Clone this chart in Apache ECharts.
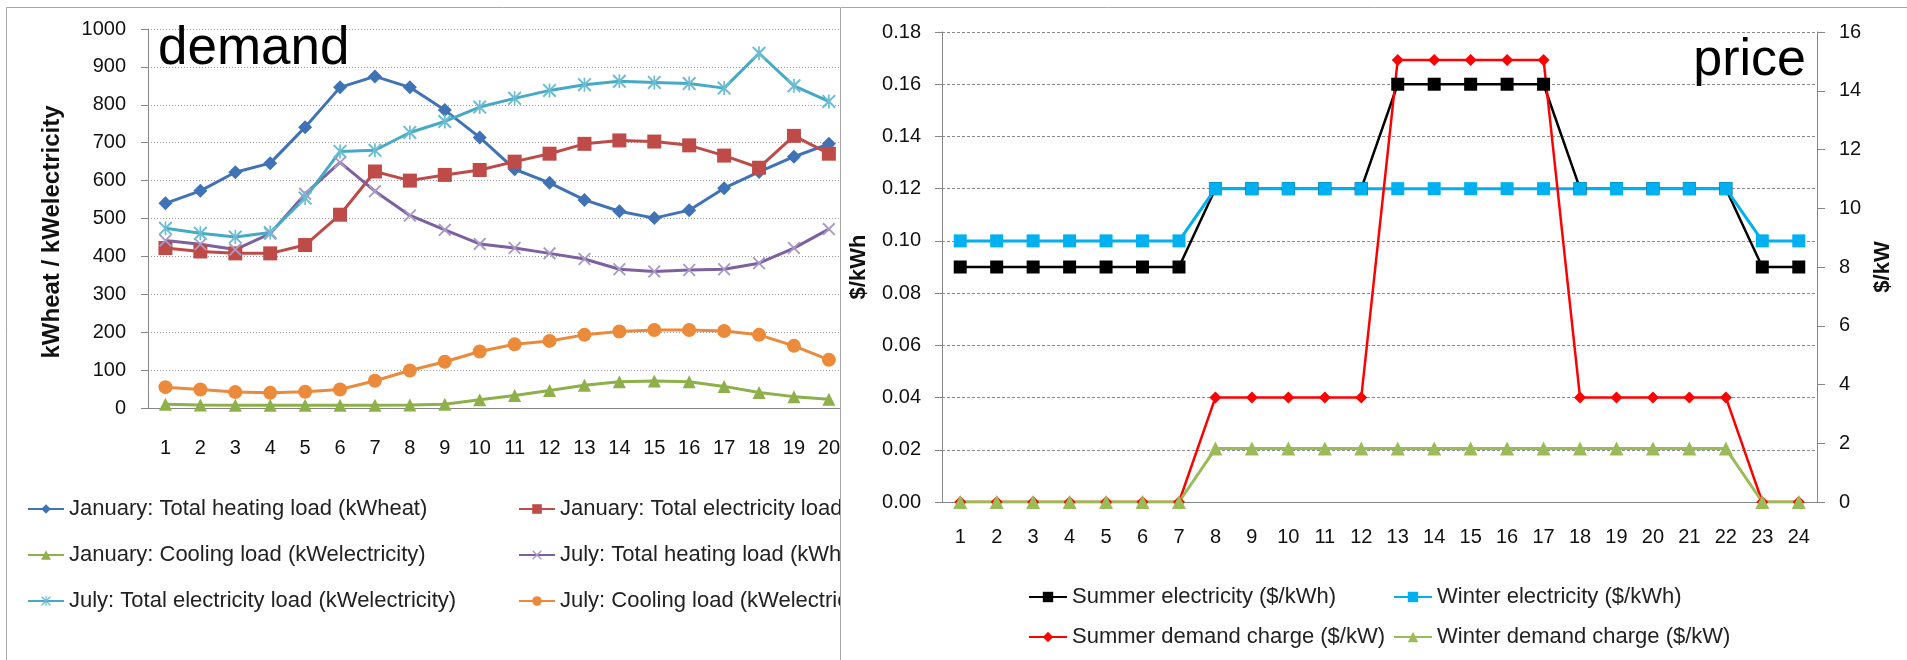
<!DOCTYPE html>
<html>
<head>
<meta charset="utf-8">
<script src="https://cdn.jsdelivr.net/npm/echarts@6/dist/echarts.min.js"></script>
<style>
  html, body { margin: 0; padding: 0; background: #fff; }
  #leftWrap { position: absolute; left: 0; top: 0; width: 840px; height: 660px; overflow: hidden; }
  #demand { width: 1000px; height: 660px; }
  #price { position: absolute; left: 840px; top: 0; width: 1067px; height: 660px; }
</style>
</head>
<body>
<div id="leftWrap"><div id="demand"></div></div>
<div id="price"></div>
<script>
// demand chart (hours shown 1..20, the rest is cut off)
var demandHours = ['1','2','3','4','5','6','7','8','9','10','11','12','13','14','15','16','17','18','19','20','21','22','23','24']
var janHeating = [540,573,622,646,741,846,875,846,786,714,630,594,549,519,501,522,580,623,663,697]
var janElectricity = [422,413,408,408,430,510,624,600,615,628,650,671,697,706,703,693,666,634,718,671]
var janCooling = [10,8,7,7,7,7,7,8,10,22,33,46,60,69,71,69,57,41,30,23]
var julyHeating = [442,432,418,460,565,648,572,508,470,433,422,408,393,366,360,364,366,382,422,472]
var julyElectricity = [474,461,451,463,554,677,680,727,756,794,817,838,853,862,859,856,844,936,850,809]
var julyCooling = [55,49,42,40,43,49,72,99,122,149,168,177,193,202,206,206,203,193,164,127]

// price chart
var priceHours = ['1','2','3','4','5','6','7','8','9','10','11','12','13','14','15','16','17','18','19','20','21','22','23','24']
var summerElectricity = [0.09,0.09,0.09,0.09,0.09,0.09,0.09,0.12,0.12,0.12,0.12,0.12,0.16,0.16,0.16,0.16,0.16,0.12,0.12,0.12,0.12,0.12,0.09,0.09]
var winterElectricity = [0.10,0.10,0.10,0.10,0.10,0.10,0.10,0.12,0.12,0.12,0.12,0.12,0.12,0.12,0.12,0.12,0.12,0.12,0.12,0.12,0.12,0.12,0.10,0.10]
var summerDemand = [0,0,0,0,0,0,0,3.56,3.56,3.56,3.56,3.56,15.05,15.05,15.05,15.05,15.05,3.56,3.56,3.56,3.56,3.56,0,0]
var winterDemand = [0,0,0,0,0,0,0,1.82,1.82,1.82,1.82,1.82,1.82,1.82,1.82,1.82,1.82,1.82,1.82,1.82,1.82,1.82,0,0]

var FONT = 'Liberation Sans, Arial, sans-serif'
var X_MARK = 'path://M0,1L1,0L10,9L9,10Z M9,0L10,1L1,10L0,9Z'
var STAR_MARK = 'path://M0,1L1,0L10,9L9,10Z M9,0L10,1L1,10L0,9Z M4.4,0L5.6,0L5.6,10L4.4,10Z'

var lineSeries = function (name, data, color, symbol, size, extra) {
  var s = {
    name: name,
    type: 'line',
    data: data,
    symbol: symbol,
    symbolSize: size,
    showAllSymbol: true,
    lineStyle: { color: color, width: 3 },
    itemStyle: { color: color, opacity: 1 }
  }
  return Object.assign(s, extra || {})
}

var demandChart = echarts.init(document.getElementById('demand'))
demandChart.setOption({
  animation: false,
  textStyle: { fontFamily: FONT },
  grid: { left: 148, top: 29, width: 838, height: 379 },
  legend: [
    {
      orient: 'vertical', left: 22, top: 493, itemGap: 24, itemWidth: 36, itemHeight: 12,
      textStyle: { fontSize: 22, color: '#222', fontFamily: FONT },
      data: ['January: Total heating load (kWheat)', 'January: Cooling load (kWelectricity)', 'July: Total electricity load (kWelectricity)']
    },
    {
      orient: 'vertical', left: 513, top: 493, itemGap: 24, itemWidth: 36, itemHeight: 12,
      textStyle: { fontSize: 22, color: '#222', fontFamily: FONT },
      data: ['January: Total electricity load (kWelectricity)', 'July: Total heating load (kWheat)', 'July: Cooling load (kWelectricity)']
    }
  ],
  graphic: [
    { type: 'rect', shape: { x: 6.5, y: 7.5, width: 1200, height: 700 }, style: { fill: 'none', stroke: '#a6a6a6', lineWidth: 1 }, silent: true },
    { type: 'text', left: 158, top: 23, style: { text: 'demand', font: '53px ' + FONT, fill: '#000' }, z: 100 },
    {
      type: 'text', x: 52, y: 232, rotation: Math.PI / 2,
      style: { text: 'kWheat / kWelectricity', font: 'bold 24px ' + FONT, fill: '#111', align: 'center', verticalAlign: 'middle' }
    }
  ],
  xAxis: {
    type: 'category',
    data: demandHours,
    axisLine: { lineStyle: { color: '#868686' } },
    axisTick: { length: 8, lineStyle: { color: '#868686' } },
    axisLabel: { interval: 0, margin: 30, fontSize: 20, color: '#111' }
  },
  yAxis: {
    type: 'value',
    min: 0, max: 1000, interval: 100,
    axisLine: { show: true, lineStyle: { color: '#868686' } },
    axisTick: { show: true, length: 7, lineStyle: { color: '#868686' } },
    axisLabel: { margin: 22, fontSize: 20, color: '#111', formatter: function (v) { return String(v) } },
    splitLine: { lineStyle: { color: '#9a9a9a', type: [1, 2] } }
  },
  series: [
    lineSeries('January: Total heating load (kWheat)', janHeating, '#3f73b6', 'diamond', 14),
    lineSeries('January: Total electricity load (kWelectricity)', janElectricity, '#be4b48', 'rect', 14),
    lineSeries('January: Cooling load (kWelectricity)', janCooling, '#8db04a', 'triangle', 13),
    lineSeries('July: Total heating load (kWheat)', julyHeating, '#7d60a0', X_MARK, 13, { itemStyle: { color: '#a999c6' } }),
    lineSeries('July: Total electricity load (kWelectricity)', julyElectricity, '#46aac5', STAR_MARK, 14, { itemStyle: { color: '#6cbdd3' } }),
    lineSeries('July: Cooling load (kWelectricity)', julyCooling, '#ec8a3c', 'circle', 14)
  ]
})

var priceChart = echarts.init(document.getElementById('price'))
priceChart.setOption({
  animation: false,
  textStyle: { fontFamily: FONT },
  grid: { left: 97, top: 32, width: 880, height: 470 },
  legend: [
    {
      orient: 'vertical', left: 183, top: 581, itemGap: 18, itemWidth: 38, itemHeight: 13,
      textStyle: { fontSize: 22, color: '#222', fontFamily: FONT },
      data: ['Summer electricity ($/kWh)', 'Summer demand charge ($/kW)']
    },
    {
      orient: 'vertical', left: 548, top: 581, itemGap: 18, itemWidth: 38, itemHeight: 13,
      textStyle: { fontSize: 22, color: '#222', fontFamily: FONT },
      data: ['Winter electricity ($/kWh)', 'Winter demand charge ($/kW)']
    }
  ],
  graphic: [
    { type: 'rect', shape: { x: 0.5, y: 7.5, width: 1200, height: 700 }, style: { fill: 'none', stroke: '#a6a6a6', lineWidth: 1 }, silent: true },
    { type: 'text', right: 101, top: 35, style: { text: 'price', font: '52px ' + FONT, fill: '#000' }, z: 100 }
  ],
  xAxis: {
    type: 'category',
    data: priceHours,
    axisLine: { lineStyle: { color: '#868686' } },
    axisTick: { length: 8, lineStyle: { color: '#868686' } },
    axisLabel: { interval: 0, margin: 25, fontSize: 20, color: '#111' }
  },
  yAxis: [
    {
      type: 'value',
      min: 0, max: 0.18, interval: 0.02,
      name: '$/kWh',
      nameLocation: 'middle',
      nameGap: 72,
      nameTextStyle: { fontSize: 22, fontWeight: 'bold', color: '#111' },
      axisLine: { show: true, lineStyle: { color: '#868686' } },
      axisTick: { show: true, length: 7, lineStyle: { color: '#868686' } },
      axisLabel: { margin: 21, fontSize: 20, color: '#111', formatter: function (v) { return v.toFixed(2) } },
      splitLine: { lineStyle: { color: '#8a8a8a', type: [3, 2] } }
    },
    {
      type: 'value',
      position: 'right',
      min: 0, max: 16, interval: 2,
      name: '$/kW',
      nameLocation: 'middle',
      nameGap: 52,
      nameRotate: 90,
      nameTextStyle: { fontSize: 22, fontWeight: 'bold', color: '#111' },
      axisLine: { show: true, lineStyle: { color: '#868686' } },
      axisTick: { show: true, length: 8, lineStyle: { color: '#868686' } },
      axisLabel: { margin: 22, fontSize: 20, color: '#111' },
      splitLine: { show: false }
    }
  ],
  series: [
    lineSeries('Summer electricity ($/kWh)', summerElectricity, '#000000', 'rect', 13, { lineStyle: { color: '#000', width: 2.5 } }),
    lineSeries('Winter electricity ($/kWh)', winterElectricity, '#00b0f0', 'rect', 13),
    lineSeries('Summer demand charge ($/kW)', summerDemand, '#ff0000', 'diamond', 12, { yAxisIndex: 1, lineStyle: { color: '#ff0000', width: 2.5 } }),
    lineSeries('Winter demand charge ($/kW)', winterDemand, '#9bbb59', 'triangle', 14, { yAxisIndex: 1 })
  ]
})
</script>
</body>
</html>
